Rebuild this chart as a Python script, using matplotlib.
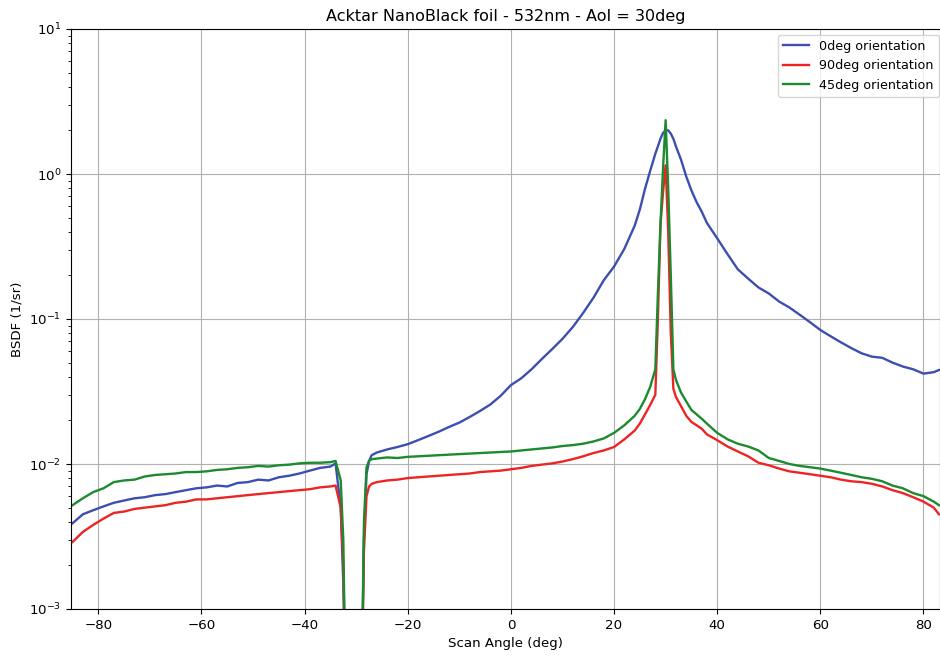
import matplotlib
matplotlib.use("Agg")
import matplotlib.pyplot as plt

# scan angles (deg), shared by all three series
angles = [
    -85, -83, -81, -79, -77, -75, -73, -71, -69, -67, -65, -63, -61,
    -59, -57, -55, -53, -51, -49, -47, -45, -43, -41, -39, -37, -35,
    -34, -33, -32.5, -32, -29, -28.5, -28, -27.5, -27, -26,
    -24, -22, -20, -18, -16, -14, -12, -10, -8, -6, -4, -2, 0,
    2, 4, 6, 8, 10, 12, 14, 16, 18, 20, 22, 24,
    25, 26, 27, 28, 28.5, 29, 29.5, 30, 30.5, 31, 31.5, 32, 33, 34, 35, 36, 37, 38,
    40, 42, 44, 46, 48, 50, 52, 54, 56, 58, 60, 62, 64, 66, 68, 70,
    72, 74, 76, 78, 80, 82,
    83,
]

bsdf_0deg = [
    0.0039, 0.0045, 0.0048, 0.0051, 0.0054, 0.0056, 0.0058, 0.0059, 0.0061, 0.0062, 0.0064, 0.0066, 0.0068,
    0.0069, 0.0071, 0.0070, 0.0074, 0.0075, 0.0078, 0.0077, 0.0081, 0.0083, 0.0086, 0.0090, 0.0094, 0.0096,
    0.0101, 0.0050, 0.0015, 0.0002, 0.0002, 0.0030, 0.0085, 0.0105, 0.0115, 0.0120,
    0.0126, 0.0131, 0.0137, 0.0146, 0.0156, 0.0167, 0.0180, 0.0193, 0.0211, 0.0232, 0.0257, 0.0295, 0.0350,
    0.0390, 0.0450, 0.0530, 0.0620, 0.0730, 0.0880, 0.1100, 0.1400, 0.1850, 0.2300, 0.3050, 0.4400,
    0.5700, 0.7900, 1.0500, 1.3800, 1.5500, 1.7500, 1.9200, 2.0000, 2.0000, 1.9000, 1.7500, 1.5500, 1.2500, 0.9600, 0.7700, 0.6400, 0.5500, 0.4600,
    0.3600, 0.2800, 0.2200, 0.1900, 0.1650, 0.1500, 0.1320, 0.1200, 0.1070, 0.0950, 0.0840, 0.0760, 0.0690, 0.0630, 0.0580, 0.0550,
    0.0540, 0.0500, 0.0470, 0.0450, 0.0420, 0.0430,
    0.0445,
]

bsdf_90deg = [
    0.0029, 0.0034, 0.0038, 0.0042, 0.0046, 0.0047, 0.0049, 0.0050, 0.0051, 0.0052, 0.0054, 0.0055, 0.0057,
    0.0057, 0.0058, 0.0059, 0.0060, 0.0061, 0.0062, 0.0063, 0.0064, 0.0065, 0.0066, 0.0067, 0.0069, 0.0070,
    0.0071, 0.0050, 0.0020, 0.0002, 0.0002, 0.0025, 0.0060, 0.0070, 0.0073, 0.0075,
    0.0077, 0.0078, 0.0080, 0.0081, 0.0082, 0.0083, 0.0084, 0.0085, 0.0086, 0.0088, 0.0089, 0.0090, 0.0092,
    0.0094, 0.0097, 0.0099, 0.0101, 0.0104, 0.0108, 0.0113, 0.0119, 0.0124, 0.0131, 0.0148, 0.0170,
    0.0190, 0.0220, 0.0255, 0.0300, 0.1000, 0.4500, 0.7500, 1.1500, 0.4000, 0.0800, 0.0330, 0.0290, 0.0250, 0.0215, 0.0195, 0.0185, 0.0175, 0.0160,
    0.0146, 0.0132, 0.0122, 0.0113, 0.0102, 0.0098, 0.0093, 0.0089, 0.0087, 0.0085, 0.0083, 0.0081, 0.0078, 0.0076, 0.0075, 0.0073,
    0.0070, 0.0066, 0.0063, 0.0059, 0.0055, 0.0050,
    0.0045,
]

bsdf_45deg = [
    0.0052, 0.0058, 0.0064, 0.0068, 0.0075, 0.0077, 0.0078, 0.0082, 0.0084, 0.0085, 0.0086, 0.0088, 0.0088,
    0.0089, 0.0091, 0.0092, 0.0094, 0.0095, 0.0097, 0.0096, 0.0098, 0.0099, 0.0101, 0.0102, 0.0102, 0.0103,
    0.0105, 0.0077, 0.0030, 0.0002, 0.0002, 0.0040, 0.0095, 0.0105, 0.0108, 0.0109,
    0.0111, 0.0110, 0.0112, 0.0113, 0.0114, 0.0115, 0.0116, 0.0117, 0.0118, 0.0119, 0.0120, 0.0121, 0.0122,
    0.0124, 0.0126, 0.0128, 0.0130, 0.0133, 0.0135, 0.0138, 0.0143, 0.0150, 0.0164, 0.0185, 0.0215,
    0.0240, 0.0280, 0.0340, 0.0450, 0.1500, 0.4500, 1.1000, 2.3500, 0.8000, 0.2000, 0.0450, 0.0380, 0.0310, 0.0270, 0.0236, 0.0220, 0.0205, 0.0190,
    0.0164, 0.0148, 0.0138, 0.0132, 0.0124, 0.0110, 0.0105, 0.0100, 0.0097, 0.0095, 0.0093, 0.0090, 0.0087, 0.0084, 0.0081, 0.0079,
    0.0076, 0.0071, 0.0068, 0.0063, 0.0060, 0.0055,
    0.0052,
]

labels = ["0deg orientation", "90deg orientation", "45deg orientation"]
colors = ["#3c4fb0", "#ee2424", "#1c8a2e"]

plt.rcParams["font.size"] = 9.6

fig = plt.figure(figsize=(9.4, 6.56), dpi=100)
ax = fig.add_axes([71 / 940, 47 / 656, 1 - 71 / 940, 580 / 656])

for vals, lab, col in zip([bsdf_0deg, bsdf_90deg, bsdf_45deg], labels, colors):
    ax.plot(angles, vals, color=col, lw=1.7, label=lab)

ax.set_yscale("log")
ax.set_ylim(1e-3, 1e1)
ax.set_xlim(-85.3, 83.2)
ax.grid(True, which="major", color="#b0b0b0", lw=0.8)
ax.set_xlabel("Scan Angle (deg)")
ax.set_ylabel("BSDF (1/sr)")
ax.set_title("Acktar NanoBlack foil - 532nm - AoI = 30deg", fontsize=11.5)
ax.legend(loc="upper left", bbox_to_anchor=((778 - 71) / 869, 0.99),
          borderaxespad=0, fontsize=9.2)

fig.savefig("out.png", dpi=100)
